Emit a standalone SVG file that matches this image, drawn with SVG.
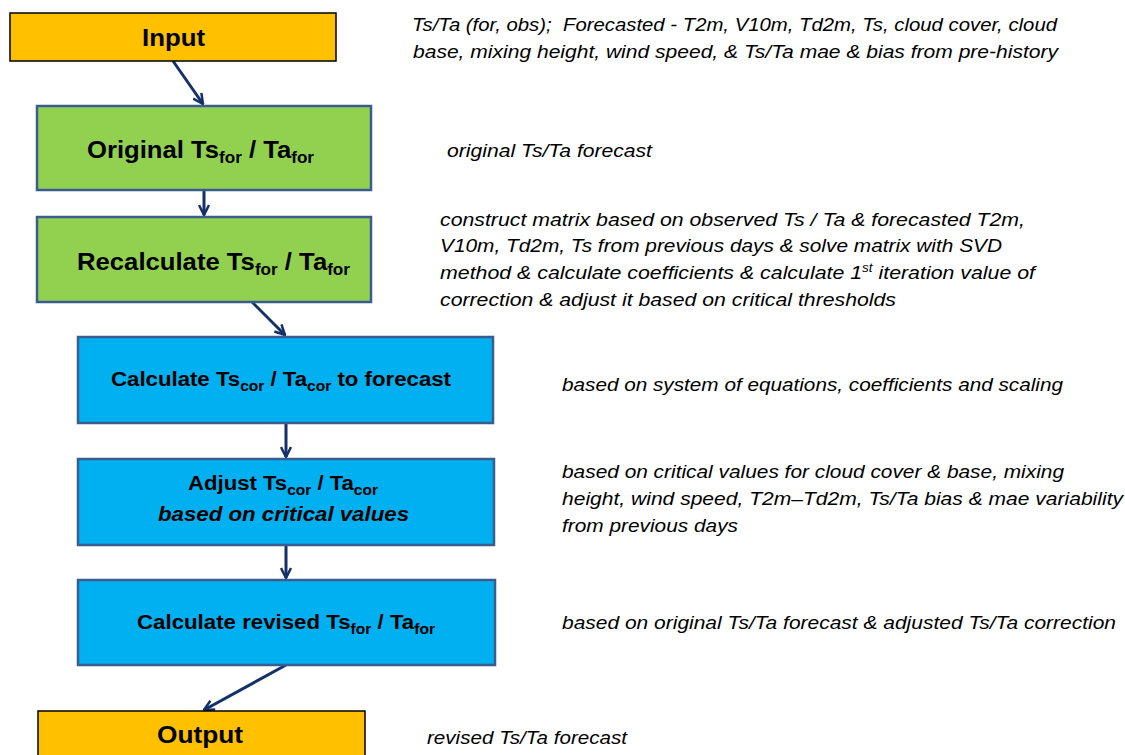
<svg xmlns="http://www.w3.org/2000/svg" width="1125" height="755" viewBox="0 0 1125 755">
<defs>
<style>
.io{fill:#FFC000;stroke:#000;stroke-width:1.5}
.gr{fill:#92D050;stroke:#3A5C8E;stroke-width:2.5}
.bl{fill:#00B0F0;stroke:#3A5C8E;stroke-width:2.5}
.bt{font-family:"Liberation Sans",Arial,sans-serif;font-weight:bold;fill:#000;text-anchor:start}
.nt{font-family:"Liberation Sans",Arial,sans-serif;font-style:italic;font-size:19px;fill:#000}
.cn{fill:none;stroke:#14306B;stroke-width:3}
</style>
<marker id="ah" viewBox="0 0 12 12" refX="11" refY="6" markerWidth="12" markerHeight="12" markerUnits="userSpaceOnUse" orient="auto">
<path d="M1,1 L11,6 L1,11" fill="none" stroke="#14306B" stroke-width="2.5"/>
</marker>
</defs>
<rect width="1125" height="755" fill="#fff"/>

<g id="connectors">
<line class="cn" x1="173" y1="61" x2="203" y2="104" marker-end="url(#ah)"/>
<line class="cn" x1="204" y1="190" x2="204" y2="215" marker-end="url(#ah)"/>
<line class="cn" x1="247" y1="297" x2="285" y2="335" marker-end="url(#ah)"/>
<line class="cn" x1="286" y1="423" x2="286" y2="457" marker-end="url(#ah)"/>
<line class="cn" x1="286" y1="545" x2="286" y2="578" marker-end="url(#ah)"/>
<line class="cn" x1="286" y1="665" x2="204" y2="710" marker-end="url(#ah)"/>
</g>

<g id="input">
<rect class="io" x="10" y="13" width="326" height="48"/>
<text class="bt" x="142" y="46" font-size="24" textLength="63" lengthAdjust="spacingAndGlyphs">Input</text>
</g>

<g id="original">
<rect class="gr" x="37" y="106" width="334" height="84"/>
<text class="bt" x="87" y="158" font-size="24" textLength="227" lengthAdjust="spacingAndGlyphs">Original Ts<tspan font-size="16" dy="5">for</tspan><tspan dy="-5"> / Ta</tspan><tspan font-size="16" dy="5">for</tspan></text>
</g>

<g id="recalculate">
<rect class="gr" x="37" y="217" width="334" height="85"/>
<text class="bt" x="77" y="270" font-size="24" textLength="273" lengthAdjust="spacingAndGlyphs">Recalculate Ts<tspan font-size="16" dy="5">for</tspan><tspan dy="-5">  / Ta</tspan><tspan font-size="16" dy="5">for</tspan></text>
</g>

<g id="calc-cor">
<rect class="bl" x="78" y="337" width="415" height="86"/>
<text class="bt" x="111" y="386" font-size="20" textLength="340" lengthAdjust="spacingAndGlyphs">Calculate Ts<tspan font-size="14" dy="5">cor</tspan><tspan dy="-5"> / Ta</tspan><tspan font-size="14" dy="5">cor</tspan><tspan dy="-5"> to forecast</tspan></text>
</g>

<g id="adjust">
<rect class="bl" x="78" y="459" width="416" height="86"/>
<text class="bt" x="188" y="490" font-size="20" textLength="190" lengthAdjust="spacingAndGlyphs">Adjust Ts<tspan font-size="14" dy="5">cor</tspan><tspan dy="-5">  / Ta</tspan><tspan font-size="14" dy="5">cor</tspan></text>
<text class="bt" x="158" y="521" font-size="20" font-style="italic" textLength="251" lengthAdjust="spacingAndGlyphs">based on critical values</text>
</g>

<g id="revised">
<rect class="bl" x="78" y="580" width="417" height="85"/>
<text class="bt" x="137" y="629" font-size="20" textLength="298" lengthAdjust="spacingAndGlyphs">Calculate revised Ts<tspan font-size="14" dy="5">for</tspan><tspan dy="-5"> / Ta</tspan><tspan font-size="14" dy="5">for</tspan></text>
</g>

<g id="output">
<rect class="io" x="38" y="711" width="327" height="50"/>
<text class="bt" x="157" y="743" font-size="24" textLength="86" lengthAdjust="spacingAndGlyphs">Output</text>
</g>

<g id="notes">
<text class="nt" x="412" y="31" textLength="645" lengthAdjust="spacingAndGlyphs">Ts/Ta (for, obs);&#160; Forecasted - T2m, V10m, Td2m, Ts, cloud cover, cloud</text>
<text class="nt" x="413" y="58" textLength="645" lengthAdjust="spacingAndGlyphs">base, mixing height, wind speed, &amp; Ts/Ta mae &amp; bias from pre-history</text>
<text class="nt" x="447" y="157" textLength="205" lengthAdjust="spacingAndGlyphs">original Ts/Ta forecast</text>
<text class="nt" x="440" y="226" textLength="585" lengthAdjust="spacingAndGlyphs">construct matrix based on observed Ts / Ta &amp; forecasted T2m,</text>
<text class="nt" x="440" y="252" textLength="562" lengthAdjust="spacingAndGlyphs">V10m, Td2m, Ts from previous days &amp; solve matrix with SVD</text>
<text class="nt" x="440" y="279" textLength="595" lengthAdjust="spacingAndGlyphs">method &amp; calculate coefficients &amp; calculate 1<tspan font-size="12" dy="-7">st</tspan><tspan dy="7"> iteration value of</tspan></text>
<text class="nt" x="440" y="306" textLength="456" lengthAdjust="spacingAndGlyphs">correction &amp; adjust it based on critical thresholds</text>
<text class="nt" x="562" y="391" textLength="501" lengthAdjust="spacingAndGlyphs">based on system of equations, coefficients and scaling</text>
<text class="nt" x="562" y="478" textLength="502" lengthAdjust="spacingAndGlyphs">based on critical values for cloud cover &amp; base, mixing</text>
<text class="nt" x="562" y="505" textLength="561" lengthAdjust="spacingAndGlyphs">height, wind speed, T2m–Td2m, Ts/Ta bias &amp; mae variability</text>
<text class="nt" x="562" y="532" textLength="176" lengthAdjust="spacingAndGlyphs">from previous days</text>
<text class="nt" x="562" y="629" textLength="554" lengthAdjust="spacingAndGlyphs">based on original Ts/Ta forecast &amp; adjusted Ts/Ta correction</text>
<text class="nt" x="427" y="744" textLength="200" lengthAdjust="spacingAndGlyphs">revised Ts/Ta forecast</text>
</g>
</svg>
